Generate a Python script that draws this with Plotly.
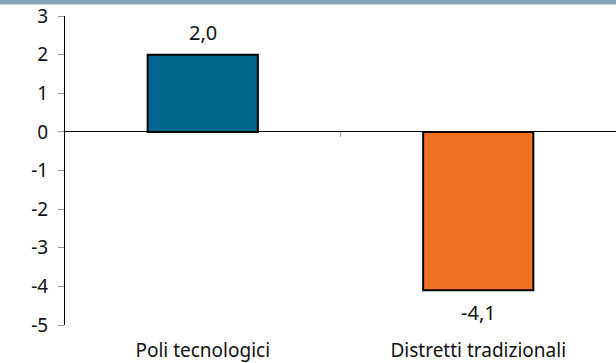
import plotly.graph_objects as go

categories = ["Poli tecnologici", "Distretti tradizionali"]
values = [2.0, -4.1]
colors = ["#00678F", "#F07122"]
y_ticks = [3, 2, 1, 0, -1, -2, -3, -4, -5]

labels = [f"{v:.1f}".replace(".", ",") for v in values]
y_ticktext = [str(t) for t in y_ticks]  # plain hyphen minus

W, H = 616, 363
ML, MR, MT, MB = 65, 0, 16, 38

fig = go.Figure()
fig.add_trace(go.Bar(
    x=categories, y=values, width=0.4,
    marker=dict(color=colors, line=dict(color="black", width=2)),
))
for c, v, t in zip(categories, values, labels):
    fig.add_annotation(x=c, y=v, text=t, showarrow=False,
                       yshift=22 if v >= 0 else -22,
                       font=dict(size=20, color="#111111"))

fig.update_layout(
    width=W, height=H,
    margin=dict(l=ML, r=MR, t=MT, b=MB),
    plot_bgcolor="white", paper_bgcolor="white",
    font=dict(family="Noto Sans, Open Sans, sans-serif", size=19, color="#111111"),
    showlegend=False,
    xaxis=dict(showline=False, showgrid=False, zeroline=False, ticks="",
               ticklabelstandoff=12, tickfont=dict(size=19)),
    yaxis=dict(range=[-5, 3], tickvals=y_ticks, ticktext=y_ticktext,
               showgrid=False, zeroline=True,
               zerolinecolor="black", zerolinewidth=1,
               showline=True, linecolor="black", linewidth=1,
               ticks="outside", ticklen=6, tickcolor="#999999",
               ticklabelstandoff=6, tickfont=dict(size=19)),
)
# small category divider tick on zero line
fig.add_shape(type="line", xref="x", yref="y", x0=0.5, x1=0.5, y0=0, y1=-0.13,
              line=dict(color="#999999", width=1))
# top banner strip (cut-off title bar)
ph = H - MT - MB
fig.add_shape(type="rect", xref="paper", yref="paper", x0=-ML / (W - ML - MR), x1=1.0,
              y0=1 + (MT - 4.5) / ph, y1=1 + MT / ph,
              fillcolor="#86A5B9", line=dict(width=0), layer="above")

fig.write_html("out.html", config={"displayModeBar": False})
with open("out.html", "r", encoding="utf-8") as f:
    html = f.read()
html = html.replace("<head>", "<head><style>html,body{margin:0;padding:0;overflow:hidden;}</style>", 1)
with open("out.html", "w", encoding="utf-8") as f:
    f.write(html)
